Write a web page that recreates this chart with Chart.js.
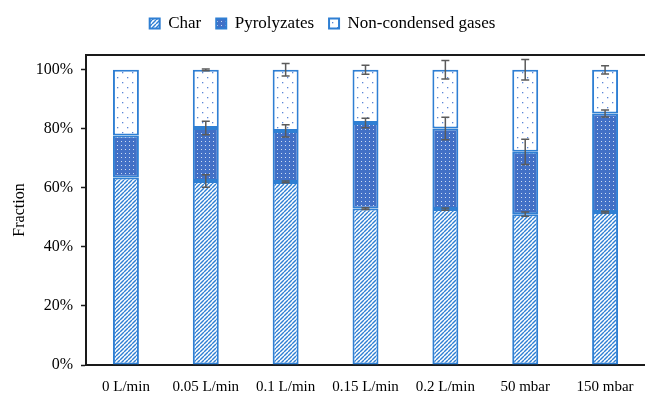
<!DOCTYPE html>
<html>
<head>
<meta charset="utf-8">
<script src="https://cdn.jsdelivr.net/npm/chart.js@4.4.1/dist/chart.umd.min.js"></script>
<style>
  html, body { margin: 0; padding: 0; background: #fff; }
  #wrap { width: 645px; height: 394px; }
</style>
</head>
<body>
<div id="wrap"><canvas id="chart"></canvas></div>
<script>
// categories and stacked fractions (%)
const categories = ['0 L/min', '0.05 L/min', '0.1 L/min', '0.15 L/min', '0.2 L/min', '50 mbar', '150 mbar'];
const charValues = [63.5, 62.3, 62.0, 53.0, 52.8, 51.1, 51.8];
const pyroValues = [14.2, 18.0, 17.3, 29.0, 27.3, 21.1, 33.4];
const gasValues = [22.3, 19.7, 20.7, 18.0, 19.9, 27.8, 14.8];
// error bars (± %), drawn at the top of each segment
const charErr = [0, 2.1, 0.3, 0.3, 0.4, 0.7, 0.3];
const pyroErr = [0, 2.3, 2.1, 1.6, 3.8, 4.3, 1.2];
const gasErr = [0, 0.3, 2.1, 1.5, 3.1, 3.5, 1.4];
const yTicks = [0, 20, 40, 60, 80, 100];

const BLUE = '#2f7fd3';
const FONT = "'Liberation Serif', 'Times New Roman', serif";

function makePattern(size, draw) {
    const c = document.createElement('canvas');
    c.width = size; c.height = size;
    const g = c.getContext('2d');
    draw(g, size);
    return g.createPattern(c, 'repeat');
}

const hatch = makePattern(4, (g, s) => {
    g.fillStyle = '#fff';
    g.fillRect(0, 0, s, s);
    g.strokeStyle = BLUE;
    g.lineWidth = 1.4;
    for (let o = -s; o <= s; o += s) {
        g.beginPath();
        g.moveTo(o, s);
        g.lineTo(o + s, 0);
        g.stroke();
    }
});

const denseDots = makePattern(4, (g, s) => {
    g.fillStyle = '#4270c6';
    g.fillRect(0, 0, s, s);
    g.fillStyle = 'rgba(255,255,255,0.75)';
    g.fillRect(1, 1, 1, 1);
});

const sparseDots = makePattern(10, (g, s) => {
    g.fillStyle = '#fff';
    g.fillRect(0, 0, s, s);
    g.fillStyle = '#5a86d6';
    g.fillRect(2, 2, 1.3, 1.3);
    g.fillRect(7, 7, 1.3, 1.3);
});

const errorBars = {
    id: 'errorBars',
    afterDatasetsDraw(chart) {
        const { ctx, scales: { y } } = chart;
        const meta = chart.getDatasetMeta(0);
        ctx.save();
        ctx.strokeStyle = '#5b5b5b';
        ctx.lineWidth = 1.5;
        categories.forEach((_, i) => {
            const cx = meta.data[i].x;
            const tops = [charValues[i], charValues[i] + pyroValues[i], charValues[i] + pyroValues[i] + gasValues[i]];
            const errs = [charErr[i], pyroErr[i], gasErr[i]];
            tops.forEach((t, k) => {
                const e = errs[k];
                if (!e) return;
                const y1 = y.getPixelForValue(t - e), y2 = y.getPixelForValue(t + e);
                ctx.beginPath();
                ctx.moveTo(cx, y1); ctx.lineTo(cx, y2);
                ctx.moveTo(cx - 4, y1); ctx.lineTo(cx + 4, y1);
                ctx.moveTo(cx - 4, y2); ctx.lineTo(cx + 4, y2);
                ctx.stroke();
            });
        });
        ctx.restore();
    }
};

const topFrame = {
    id: 'topFrame',
    afterDraw(chart) {
        const { ctx, chartArea } = chart;
        ctx.save();
        ctx.strokeStyle = '#1a1a1a';
        ctx.lineWidth = 2;
        ctx.beginPath();
        ctx.moveTo(chartArea.left, chartArea.top);
        ctx.lineTo(chartArea.right, chartArea.top);
        ctx.stroke();
        ctx.restore();
    }
};

// extra space under the legend
const legendGap = {
    id: 'legendGap',
    beforeInit(chart) {
        const lg = chart.legend;
        if (!lg) return;
        const fit = lg.fit.bind(lg);
        lg.fit = function () { fit(); this.height += 13; };
    }
};

const barOpts = { borderColor: BLUE, borderWidth: 2, borderSkipped: false, categoryPercentage: 1, barPercentage: 0.325 };

new Chart(document.getElementById('chart'), {
    type: 'bar',
    data: {
        labels: categories,
        datasets: [
            { label: 'Char', data: charValues, backgroundColor: hatch, ...barOpts },
            { label: 'Pyrolyzates', data: pyroValues, backgroundColor: denseDots, ...barOpts },
            { label: 'Non-condensed gases', data: gasValues, backgroundColor: sparseDots, ...barOpts }
        ]
    },
    options: {
        responsive: true, maintainAspectRatio: false, animation: false,
        layout: { padding: { left: 0, right: 0, top: 0, bottom: 0 } },
        plugins: {
            legend: {
                position: 'top',
                labels: { color: '#000', font: { family: FONT, size: 17 }, boxWidth: 10, boxHeight: 10, padding: 15 }
            },
            tooltip: { enabled: false }
        },
        scales: {
            x: {
                stacked: true,
                grid: { display: false },
                border: { display: true, color: '#1a1a1a', width: 2 },
                ticks: { color: '#000', font: { family: FONT, size: 15 }, padding: 5, maxRotation: 0, autoSkip: false },
                afterFit: s => { s.height = 29; }
            },
            y: {
                stacked: true, min: 0, max: 105,
                afterBuildTicks: s => { s.ticks = yTicks.map(v => ({ value: v })); },
                ticks: { color: '#000', font: { family: FONT, size: 16 }, padding: 8, callback: v => v + '%' },
                grid: { drawOnChartArea: false, drawTicks: true, tickLength: 5, color: '#1a1a1a', tickWidth: 1.5 },
                border: { display: true, color: '#1a1a1a', width: 2 },
                title: { display: true, text: 'Fraction', color: '#000', font: { family: FONT, size: 16 }, padding: { top: 10, bottom: 4 } },
                afterFit: s => { s.width = 86; }
            }
        }
    },
    plugins: [errorBars, topFrame, legendGap]
});
</script>
</body>
</html>
